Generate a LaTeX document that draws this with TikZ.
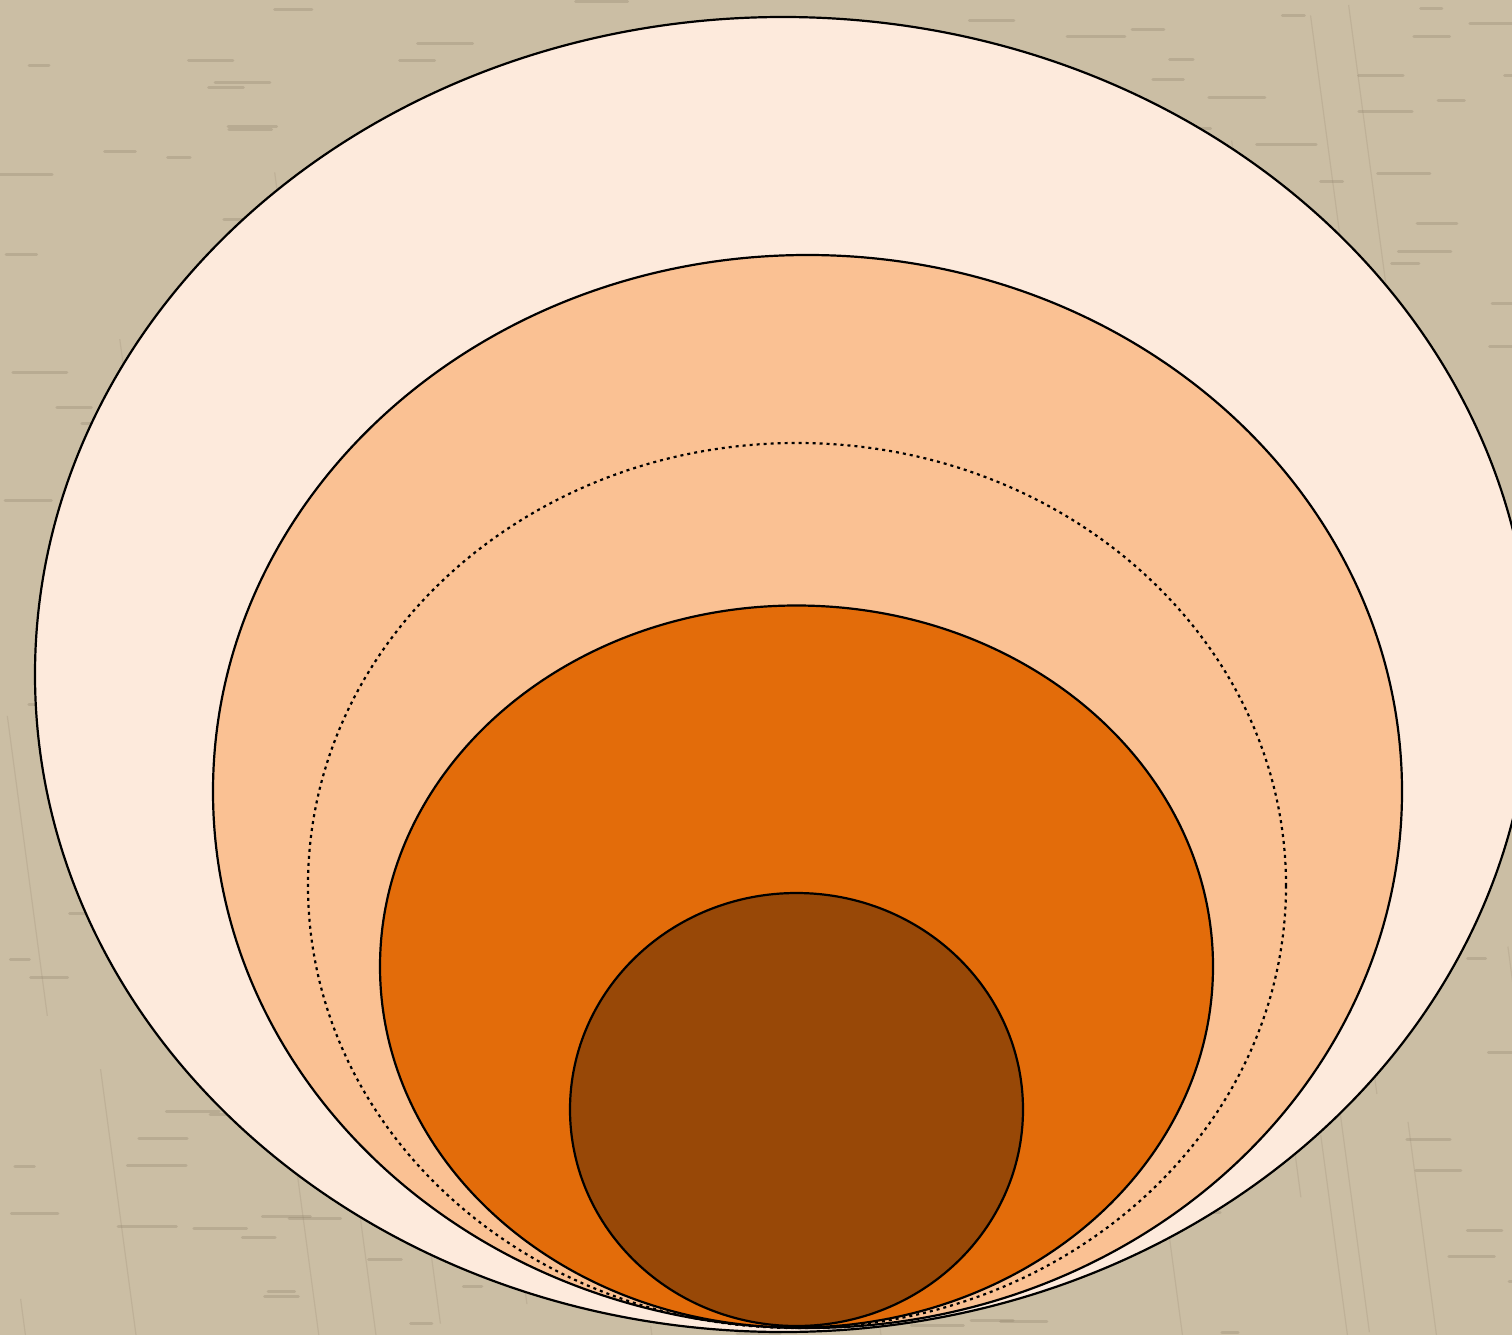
\documentclass[tikz,border=0pt]{standalone}
\usetikzlibrary{calc}
\definecolor{woodbg}{HTML}{CBBEA4}
\definecolor{woodstreak}{HTML}{8F806A}
\definecolor{ringA}{HTML}{FDEADC}
\definecolor{ringB}{HTML}{FAC193}
\definecolor{ringC}{HTML}{E36C0A}
\definecolor{ringD}{HTML}{984807}
\tikzset{
  ring/.style={draw=black, line width=2.2pt},
  dotring/.style={draw=black, line width=2.2pt, dash pattern=on 3pt off 4pt},
  streak/.style={draw=woodstreak, line width=3pt, opacity=0.3, line cap=round},
}
\begin{document}
\begin{tikzpicture}[x=1pt,y=-1pt]
\useasboundingbox (0,0) rectangle (1512,1335);
\clip (0,0) rectangle (1512,1335);
\fill[woodbg] (0,0) rectangle (1512,1335);
\pgfmathsetseed{7}
\foreach \i in {1,...,320}{
  \pgfmathsetmacro{\sx}{rnd*1512}
  \pgfmathsetmacro{\sy}{rnd*1335}
  \pgfmathsetmacro{\sl}{15+rnd*45}
  \draw[streak] (\sx,\sy) -- ++(\sl,0);
}
\foreach \i in {1,...,50}{
  \pgfmathsetmacro{\sx}{rnd*1512}
  \pgfmathsetmacro{\sy}{rnd*1335}
  \draw[draw=woodstreak, line width=1.2pt, opacity=0.2] (\sx,\sy) -- ++(40,300);
}
\path[ring, fill=ringA] (783,674.5) ellipse [x radius=748, y radius=657.5];
\path[ring, fill=ringB] (807.5,791.5) ellipse [x radius=594.5, y radius=536.5];
\path[dotring] (797,885.5) ellipse [x radius=489, y radius=442.5];
\path[ring, fill=ringC] (796.5,966.5) ellipse [x radius=416.5, y radius=361];
\path[ring, fill=ringD] (796.5,1109.5) ellipse [x radius=226.5, y radius=216.5];
\end{tikzpicture}
\end{document}
